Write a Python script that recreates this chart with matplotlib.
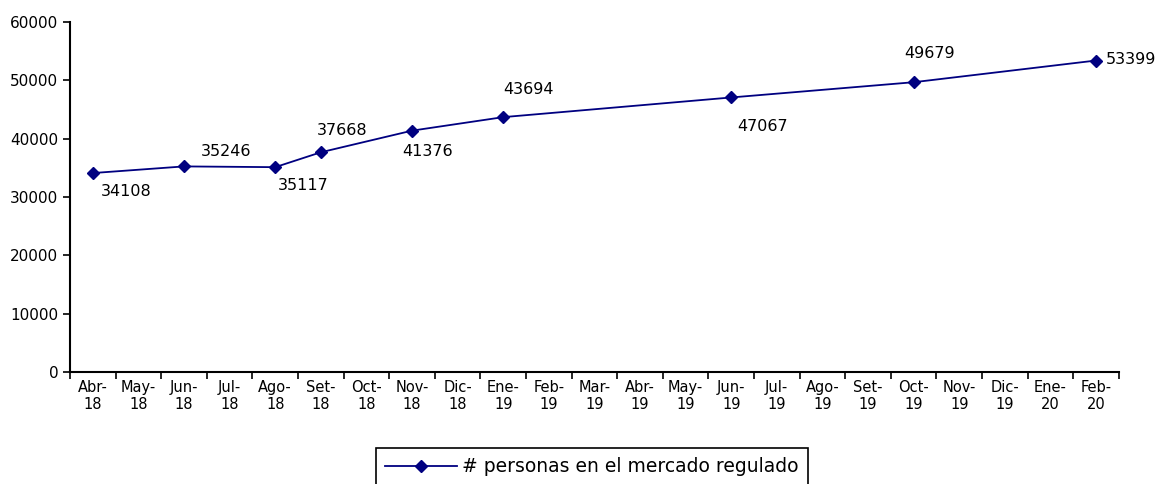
import matplotlib.pyplot as plt
import numpy as np

months = ['Abr-\n18', 'May-\n18', 'Jun-\n18', 'Jul-\n18', 'Ago-\n18', 'Set-\n18',
          'Oct-\n18', 'Nov-\n18', 'Dic-\n18', 'Ene-\n19', 'Feb-\n19', 'Mar-\n19',
          'Abr-\n19', 'May-\n19', 'Jun-\n19', 'Jul-\n19', 'Ago-\n19', 'Set-\n19',
          'Oct-\n19', 'Nov-\n19', 'Dic-\n19', 'Ene-\n20', 'Feb-\n20']
point_idx = [0, 2, 4, 5, 7, 9, 14, 18, 22]
values = [34108, 35246, 35117, 37668, 41376, 43694, 47067, 49679, 53399]
# label offsets (points) relative to each marker
offsets = [(6, -13), (12, 11), (2, -13), (-3, 16), (-7, -15), (0, 20), (4, -21), (-7, 21), (7, 1)]

navy = '#000080'
plt.rcParams['font.family'] = ['DejaVu Sans']

fig = plt.figure(figsize=(11.63, 4.84), dpi=100)
ax = fig.add_axes([0.0602, 0.2314, 0.9018, 0.7231])

ax.plot(point_idx, values, color=navy, lw=1.3, marker='D', ms=6.5,
        label='# personas en el mercado regulado')

for i, v, (dx, dy) in zip(point_idx, values, offsets):
    ax.annotate(str(v), (i, v), xytext=(dx, dy), textcoords='offset points',
                fontsize=11.5, ha='left', va='center', color='black')

ax.set_xlim(-0.5, len(months) - 0.5)
ax.set_ylim(0, 60000)
ax.set_yticks(np.arange(0, 60001, 10000))
ax.set_xticks(range(len(months)))
ax.set_xticklabels(months, fontsize=10.5, linespacing=1.1)
ax.set_xticks(np.arange(-0.5, len(months), 1), minor=True)
ax.tick_params(axis='x', which='major', length=0, pad=6)
ax.tick_params(axis='x', which='minor', length=5, width=1.2, direction='out')
ax.tick_params(axis='y', length=5, width=1.2, labelsize=11)

for s in ['top', 'right']:
    ax.spines[s].set_visible(False)
for s in ['left', 'bottom']:
    ax.spines[s].set_linewidth(1.5)

leg = fig.legend(loc='upper left', bbox_to_anchor=(376 / 1163, 1 - 448 / 484),
                 borderaxespad=0, fontsize=13.5, frameon=True, fancybox=False,
                 edgecolor='black', framealpha=1, handlelength=3.8,
                 handletextpad=0.3, borderpad=0.5)
leg.get_frame().set_linewidth(1.2)

fig.savefig('out.png', dpi=100)
